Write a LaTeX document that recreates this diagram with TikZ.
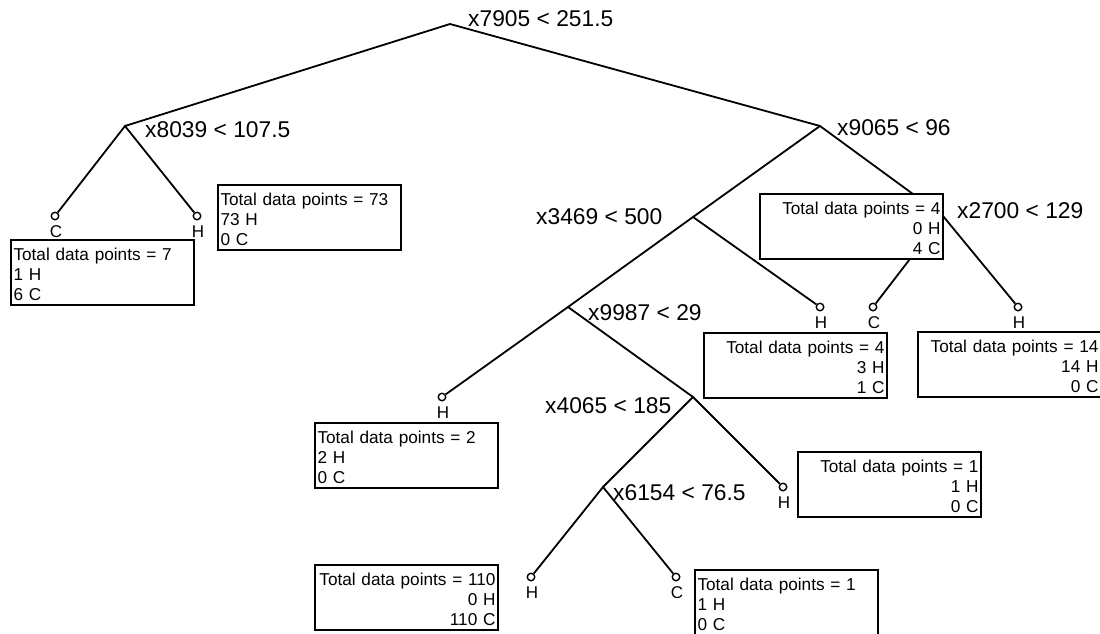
\documentclass[tikz,border=0pt]{standalone}
\usepackage{fontspec}
\setmainfont{Liberation Sans}
\tikzset{
  split/.style={anchor=west, inner sep=0pt, font=\fontsize{22.8}{27}\selectfont},
  leafc/.style={circle, draw, line width=1.4pt, fill=white, minimum size=7.5pt, inner sep=0pt},
  leaftxt/.style={inner sep=0pt, font=\fontsize{17}{18}\selectfont},
  edge/.style={line width=1.8pt},
  boxL/.style={draw, line width=2pt, fill=white, anchor=north west, text width=178pt, align=left, inner xsep=2.5pt, inner ysep=0pt, font=\fontsize{17.2}{20}\selectfont},
  boxR/.style={boxL, align=right},
}
\newcommand{\tdp}[3]{\rule{0pt}{20.2pt}#1\\#2\\#3\rule[-4.8pt]{0pt}{4.8pt}}
\begin{document}
\begin{tikzpicture}[x=1pt,y=-1pt]
\useasboundingbox (0,0) rectangle (1100,633);
\clip (0,0) rectangle (1100,633);
% split points
\coordinate (n7905) at (450,24);
\coordinate (n8039) at (125,126);
\coordinate (n9065) at (820,126);
\coordinate (n3469) at (693,217);
\coordinate (n2700) at (943,216);
\coordinate (n9987) at (568,307);
\coordinate (n4065) at (693,397);
\coordinate (n6154) at (603,487);
% leaves
\node[leafc] (l1) at (55,216) {};
\node[leafc] (l2) at (197,216) {};
\node[leafc] (l3) at (820,307) {};
\node[leafc] (l4) at (873,307) {};
\node[leafc] (l5) at (1018,307) {};
\node[leafc] (l6) at (442,397) {};
\node[leafc] (l7) at (783,487) {};
\node[leafc] (l8) at (531,577) {};
\node[leafc] (l9) at (676,577) {};
% edges
\draw[edge] (n8039) -- (n7905) -- (n9065);
\draw[edge] (l1) -- (n8039) -- (l2);
\draw[edge] (n3469) -- (n9065) -- (n2700);
\draw[edge] (l4) -- (n2700) -- (l5);
\draw[edge] (n9987) -- (n3469) -- (l3);
\draw[edge] (l6) -- (n9987) -- (n4065);
\draw[edge] (n6154) -- (n4065) -- (l7);
\draw[edge] (l8) -- (n6154) -- (l9);
% split labels
\node[split] (s7905) at (468,19) {x7905 < 251.5};
\node[split] (s8039) at (145,130) {x8039 < 107.5};
\node[split] (s9065) at (837,128) {x9065 < 96};
\node[split] (s3469) at (536,217) {x3469 < 500};
\node[split] (s2700) at (957,211) {x2700 < 129};
\node[split] (s9987) at (588,313) {x9987 < 29};
\node[split] (s4065) at (545,406) {x4065 < 185};
\node[split] (s6154) at (613,493) {x6154 < 76.5};
% leaf letters
\node[leaftxt] (t1) at ([xshift=1pt,yshift=-15.5pt]l1) {C};
\node[leaftxt] (t2) at ([xshift=1pt,yshift=-15.5pt]l2) {H};
\node[leaftxt] (t3) at ([xshift=1pt,yshift=-15.5pt]l3) {H};
\node[leaftxt] (t4) at ([xshift=1pt,yshift=-15.5pt]l4) {C};
\node[leaftxt] (t5) at ([xshift=1pt,yshift=-15.5pt]l5) {H};
\node[leaftxt] (t6) at ([xshift=1pt,yshift=-15.5pt]l6) {H};
\node[leaftxt] (t7) at ([xshift=1pt,yshift=-15.5pt]l7) {H};
\node[leaftxt] (t8) at ([xshift=1pt,yshift=-15.5pt]l8) {H};
\node[leaftxt] (t9) at ([xshift=1pt,yshift=-15.5pt]l9) {C};
% data boxes
\node[boxL] (b1) at (10,239) {\tdp{Total data points = 7}{1 H}{6 C}};
\node[boxL] (b2) at (217,184) {\tdp{Total data points = 73}{73 H}{0 C}};
\node[boxR] (b4) at (759,193) {\tdp{Total data points = 4}{0 H}{4 C}};
\node[boxR] (b5) at (917,331) {\tdp{Total data points = 14}{14 H}{0 C}};
\node[boxR] (b3) at (703,332) {\tdp{Total data points = 4}{3 H}{1 C}};
\node[boxL] (b6) at (314,422) {\tdp{Total data points = 2}{2 H}{0 C}};
\node[boxR] (b7) at (797,451) {\tdp{Total data points = 1}{1 H}{0 C}};
\node[boxR] (b8) at (314,564) {\tdp{Total data points = 110}{0 H}{110 C}};
\node[boxL] (b9) at (694,569) {\tdp{Total data points = 1}{1 H}{0 C}};
\end{tikzpicture}
\end{document}
